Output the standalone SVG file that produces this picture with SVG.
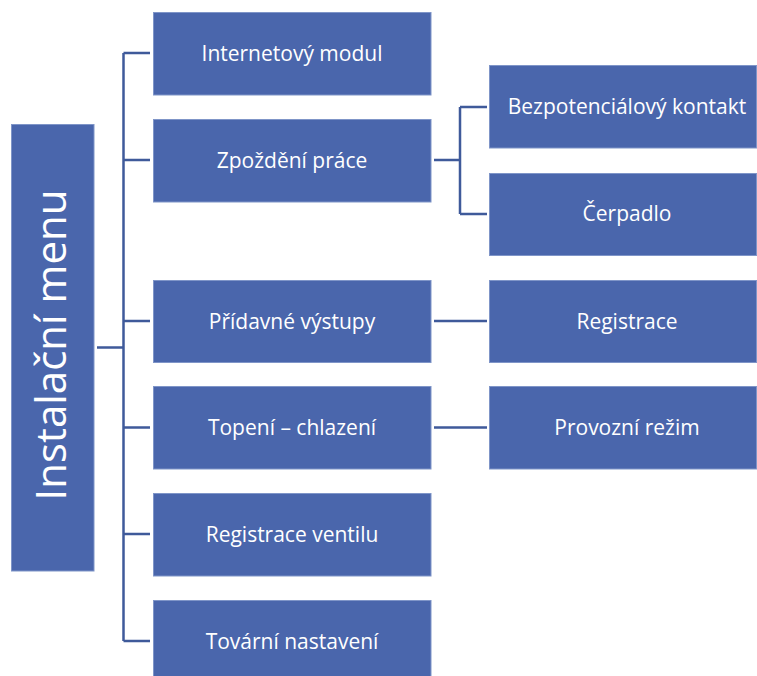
<svg xmlns="http://www.w3.org/2000/svg" width="757" height="676" viewBox="0 0 757 676">
<style>
.box{fill:#4A66AC;stroke:#7F95C8;stroke-width:1}
.t{fill:#FFFFFF;font-family:"Open Sans","Liberation Sans",sans-serif;font-size:21px;text-anchor:middle}
.root{font-size:42px}
.c{fill:none;stroke:#3F5A9A;stroke-width:2.5}
</style>
<rect width="757" height="676" fill="#FFFFFF"/>
<g id="connectors">
<path class="c" d="M97,347.5H123.5M123.5,53V641M123.5,53H150M123.5,160H150M123.5,321H150M123.5,427.5H150M123.5,534H150M123.5,641H150"/>
<path class="c" d="M434,160H460M460,107V214M460,107H487M460,214H487"/>
<path class="c" d="M434,321H487M434,427.5H487"/>
</g>
<g id="root"><rect class="box" x="11.5" y="124.5" width="82.5" height="446.5"/><text class="t root" transform="translate(66,345) rotate(-90)">Instalační menu</text></g>
<g id="internet"><rect class="box" x="153.5" y="12.5" width="277.5" height="82.5"/><text class="t" x="292" y="60.5">Internetový modul</text></g>
<g id="zpozdeni"><rect class="box" x="153.5" y="119.5" width="277.5" height="82.5"/><text class="t" x="292" y="167.5">Zpoždění práce</text></g>
<g id="pridavne"><rect class="box" x="153.5" y="280.5" width="277.5" height="82"/><text class="t" x="292" y="328.5">Přídavné výstupy</text></g>
<g id="topeni"><rect class="box" x="153.5" y="386.5" width="277.5" height="82.5"/><text class="t" x="292" y="434.5">Topení – chlazení</text></g>
<g id="ventil"><rect class="box" x="153.5" y="493.5" width="277.5" height="82.5"/><text class="t" x="292" y="541.5">Registrace ventilu</text></g>
<g id="tovarni"><rect class="box" x="153.5" y="600.5" width="277.5" height="82.5"/><text class="t" x="292" y="648.5">Tovární nastavení</text></g>
<g id="bezpot"><rect class="box" x="489.5" y="65.5" width="267" height="82.5"/><text class="t" x="627" y="113.5">Bezpotenciálový kontakt</text></g>
<g id="cerpadlo"><rect class="box" x="489.5" y="173.5" width="267" height="82"/><text class="t" x="627" y="221">Čerpadlo</text></g>
<g id="registrace"><rect class="box" x="489.5" y="280.5" width="267" height="82"/><text class="t" x="627" y="328.5">Registrace</text></g>
<g id="provozni"><rect class="box" x="489.5" y="386.5" width="267" height="82.5"/><text class="t" x="627" y="434.5">Provozní režim</text></g>
</svg>
